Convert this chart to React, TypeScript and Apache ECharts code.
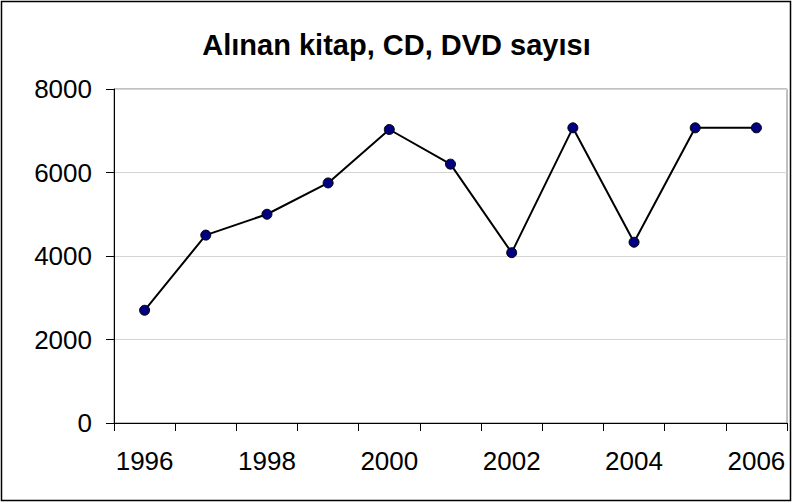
import React, { useEffect, useRef } from "react";
import * as echarts from "echarts";

const titleText = "Alınan kitap, CD, DVD sayısı";
const years = ["1996", "1997", "1998", "1999", "2000", "2001", "2002", "2003", "2004", "2005", "2006"];
const counts = [2700, 4500, 5000, 5750, 7030, 6200, 4080, 7070, 4330, 7070, 7070];
const yTicks = { min: 0, max: 8000, interval: 2000 };

export default function App() {
  const ref = useRef<HTMLDivElement>(null);
  useEffect(() => {
    if (!ref.current) return;
    const chart = echarts.init(ref.current, null, { renderer: "svg" });
    const font = "'Liberation Sans', Arial, sans-serif";
    chart.setOption({
      animation: false,
      backgroundColor: "#ffffff",
      title: {
        text: titleText,
        left: "center",
        top: 25,
        textStyle: { fontFamily: font, fontSize: 29, fontWeight: "bold", color: "#000" },
      },
      graphic: [
        {
          type: "rect",
          shape: { x: 1.5, y: 1.5, width: 789, height: 499 },
          style: { fill: "none", stroke: "#000", lineWidth: 1.5 },
          silent: true,
        },
      ],
      grid: {
        left: 114,
        right: 6,
        top: 89,
        bottom: 81,
        show: true,
        borderColor: "#808080",
        borderWidth: 1,
      },
      xAxis: {
        type: "category",
        data: years,
        boundaryGap: true,
        axisLine: { lineStyle: { color: "#000", width: 1 } },
        axisTick: { show: true, interval: 0, length: 8, lineStyle: { color: "#000" } },
        axisLabel: { interval: 1, margin: 25, fontFamily: font, fontSize: 26, color: "#000" },
        splitLine: { show: false },
      },
      yAxis: {
        type: "value",
        min: yTicks.min,
        max: yTicks.max,
        interval: yTicks.interval,
        axisLine: { show: true, lineStyle: { color: "#000", width: 1 } },
        axisTick: { show: true, length: 8, lineStyle: { color: "#000" } },
        axisLabel: {
          margin: 22,
          fontFamily: font,
          fontSize: 26,
          color: "#000",
          formatter: (v: number) => String(v),
        },
        splitLine: { show: true, lineStyle: { color: "#d4d4d4", width: 1 } },
      },
      series: [
        {
          type: "line",
          data: counts,
          symbol: "circle",
          symbolSize: 10,
          lineStyle: { color: "#000", width: 2 },
          itemStyle: { color: "#000080", borderColor: "#000", borderWidth: 1 },
        },
      ],
    });
    return () => chart.dispose();
  }, []);
  return (
    <div
      ref={ref}
      style={{ position: "absolute", left: 0, top: 0, width: 793, height: 504 }}
    />
  );
}
